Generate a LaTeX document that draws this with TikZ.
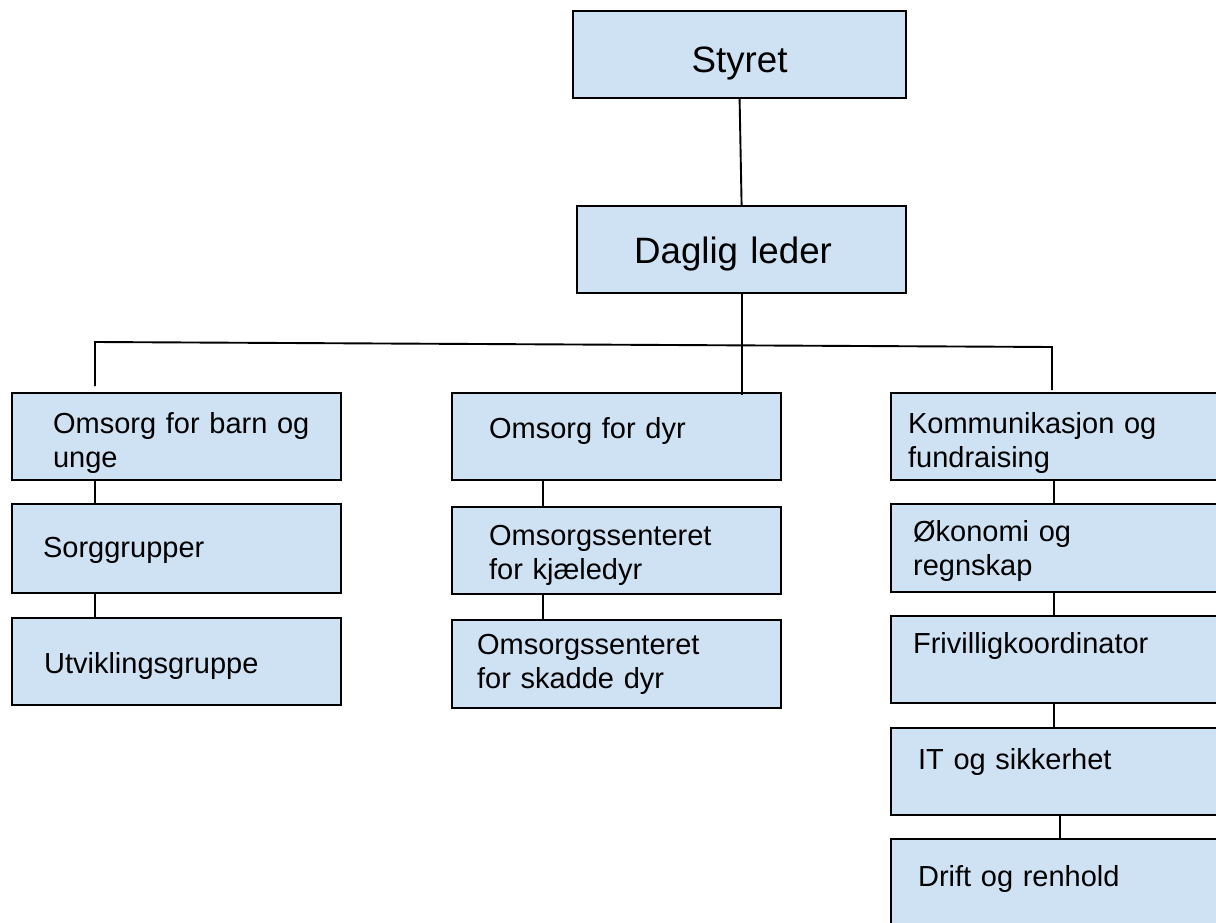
\documentclass[tikz,border=0pt]{standalone}
\usepackage{fontspec}
\setmainfont{Liberation Sans}
\usetikzlibrary{calc}
\definecolor{orgblue}{RGB}{207,226,243}
\tikzset{
    box/.style={draw=black, line width=2.2pt, fill=orgblue, anchor=north west,
                inner ysep=0pt, align=left, font=\fontsize{29}{34}\selectfont},
    topbox/.style={box, font=\fontsize{36.7}{44}\selectfont},
    link/.style={line width=1.9pt, black},
}

\begin{document}
\begin{tikzpicture}[x=1pt, y=-1pt]
    \useasboundingbox (0,0) rectangle (1216,923);
    % top
    \node[topbox, inner xsep=0pt, text width=333pt, align=center, text height=61pt, text depth=26pt] (styret) at (572,10) {Styret};
    \node[topbox, inner xsep=57pt, text width=215pt, text height=57pt, text depth=30pt] (leder) at (576,205) {Daglig leder};
    % left column
    \node[box, inner xsep=41pt, text width=247pt, text height=40pt, text depth=47pt] (barn) at (11,392) {\mbox{Omsorg for barn og}\\unge};
    \node[box, inner xsep=31pt, text width=267pt, text height=53pt, text depth=36pt] (sorg) at (11,503) {Sorggrupper};
    \node[box, inner xsep=32pt, text width=265pt, text height=55pt, text depth=32pt] (utv) at (11,617) {Utviklingsgruppe};
    % middle column
    \node[box, inner xsep=37pt, text width=255pt, text height=45pt, text depth=42pt] (dyr) at (451,392) {Omsorg for dyr};
    \node[box, inner xsep=37pt, text width=255pt, text height=38pt, text depth=49pt] (kjaele) at (451,506) {Omsorgssenteret\\for kjæledyr};
    \node[box, inner xsep=25pt, text width=279pt, text height=34pt, text depth=54pt] (skadde) at (451,619) {Omsorgssenteret\\for skadde dyr};
    % right column
    \node[box, inner xsep=17pt, text width=296pt, text height=40pt, text depth=47pt] (kom) at (890,392) {Kommunikasjon og\\fundraising};
    \node[box, inner xsep=22pt, text width=286pt, text height=37pt, text depth=51pt] (oko) at (890,503) {Økonomi og\\regnskap};
    \node[box, inner xsep=22pt, text width=286pt, text height=37pt, text depth=50pt] (friv) at (890,615) {Frivilligkoordinator};
    \node[box, inner xsep=27pt, text width=276pt, text height=41pt, text depth=46pt] (it) at (890,727) {IT og sikkerhet};
    \node[box, inner xsep=27pt, text width=276pt, text height=47pt, text depth=45pt] (drift) at (890,838) {Drift og renhold};
    % connectors
    \coordinate (bar-l) at (95,342);
    \coordinate (bar-r) at (1052,347);
    \draw[link] (styret.south) -- (leder.north);
    \draw[link] (leder.south) -- ($(leder.south |- dyr.north)+(0,3)$);
    \draw[link] ($(bar-l |- barn.north)+(0,-6)$) -- (bar-l) -- (bar-r) -- ($(bar-r |- kom.north)+(0,-2)$);
    \foreach \a/\b/\dx in {barn/sorg/84, sorg/utv/84, dyr/kjaele/92, kjaele/skadde/92,
                           kom/oko/164, oko/friv/164, friv/it/164, it/drift/170}
        { \draw[link] ([xshift=\dx pt]\a.south west) -- ([xshift=\dx pt]\b.north west); }
\end{tikzpicture}
\end{document}
